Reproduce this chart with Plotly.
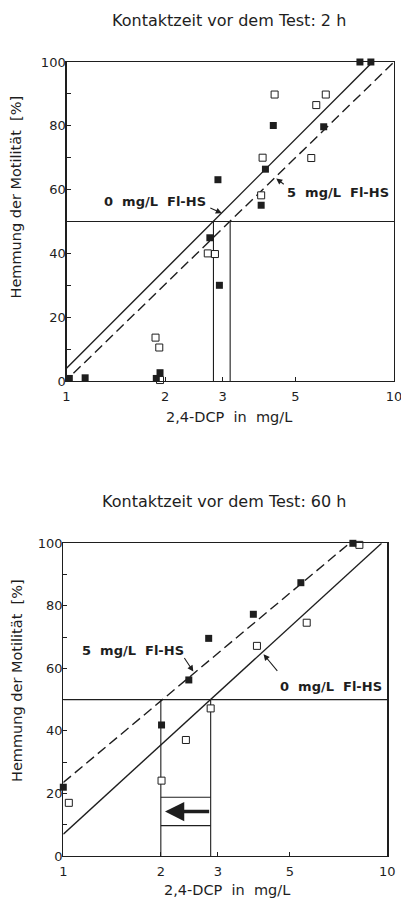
import numpy as np
import plotly.graph_objects as go

# ---------------- data ----------------
x_ticks = [1, 2, 3, 5, 10]
x_ticktext = ["1", "2", "3", "5", "10"]
y_ticks = [0, 10, 20, 30, 40, 50, 60, 70, 80, 90, 100]
y_ticktext = ["0", "", "20", "", "40", "", "60", "", "80", "", "100"]

# 2 h contact time
top_filled_x = [1.02, 1.14, 1.88, 1.93, 2.74, 2.93, 2.90, 3.93, 4.05, 4.28, 6.10, 7.87, 8.50]
top_filled_y = [0.8, 1.0, 0.8, 2.6, 44.9, 30.0, 63.1, 55.1, 66.4, 80.1, 79.7, 100, 100]
top_open_x = [1.87, 1.92, 1.93, 2.70, 2.84, 3.93, 3.97, 4.32, 5.59, 5.79, 6.19]
top_open_y = [13.6, 10.5, 0.3, 40.0, 39.8, 58.2, 70.0, 89.8, 69.9, 86.5, 89.8]
top_fit0_x = [1.0, 8.6]
top_fit0_y = [4.0, 100.0]
top_fit5_x = [1.05, 10.0]
top_fit5_y = [2.4, 100.0]
top_ec50 = [2.81, 3.16]

# 60 h contact time
bot_filled_x = [1.0, 2.01, 2.44, 2.81, 3.86, 5.41, 7.83]
bot_filled_y = [22.0, 41.9, 56.3, 69.6, 77.3, 87.4, 100]
bot_open_x = [1.04, 2.01, 2.39, 2.85, 3.96, 5.64, 8.2]
bot_open_y = [17.0, 24.1, 37.1, 47.2, 67.2, 74.6, 99.5]
bot_fit0_x = [1.0, 9.6]
bot_fit0_y = [7.0, 100.0]
bot_fit5_x = [1.0, 7.64]
bot_fit5_y = [23.5, 100.0]
bot_ec50 = [2.0, 2.85]
bot_box_y = [9.7, 18.8]
bot_arrow_y = 14.2

ink = "#1e1e1e"
FONT = "DejaVu Sans, sans-serif"

fig = go.Figure()


def add_panel(xa, ya, fx, fy, ox, oy, f0x, f0y, f5x, f5y, ec):
    kw = dict(xaxis=xa, yaxis=ya, showlegend=False, hoverinfo="skip")
    # 50 % line
    fig.add_trace(go.Scatter(x=[1, 10], y=[50, 50], mode="lines",
                             line=dict(color=ink, width=1.1), **kw))
    for e in ec:
        fig.add_trace(go.Scatter(x=[e, e], y=[0, 50], mode="lines",
                                 line=dict(color=ink, width=1.1), **kw))
    fig.add_trace(go.Scatter(x=f0x, y=f0y, mode="lines",
                             line=dict(color=ink, width=1.4), **kw))
    fig.add_trace(go.Scatter(x=f5x, y=f5y, mode="lines",
                             line=dict(color=ink, width=1.4, dash="10px,5px"), **kw))
    fig.add_trace(go.Scatter(x=ox, y=oy, mode="markers", cliponaxis=False,
                             marker=dict(symbol="square", size=7, color="white",
                                         line=dict(color=ink, width=1)), **kw))
    fig.add_trace(go.Scatter(x=fx, y=fy, mode="markers", cliponaxis=False,
                             marker=dict(symbol="square", size=7, color=ink,
                                         line=dict(width=0)), **kw))


add_panel("x", "y", top_filled_x, top_filled_y, top_open_x, top_open_y,
          top_fit0_x, top_fit0_y, top_fit5_x, top_fit5_y, top_ec50)
add_panel("x2", "y2", bot_filled_x, bot_filled_y, bot_open_x, bot_open_y,
          bot_fit0_x, bot_fit0_y, bot_fit5_x, bot_fit5_y, bot_ec50)

# box with arrow in lower panel
for yb in bot_box_y:
    fig.add_trace(go.Scatter(x=bot_ec50, y=[yb, yb], mode="lines", xaxis="x2", yaxis="y2",
                             line=dict(color=ink, width=1.1), showlegend=False, hoverinfo="skip"))

W, H = 401, 902


def px(xp):
    return xp / W


def py(yp):
    return (H - yp) / H


xcommon = dict(type="log", range=[0, 1], tickvals=x_ticks, ticktext=x_ticktext,
               ticks="inside", ticklen=4, tickcolor=ink, showline=True, mirror=True,
               linecolor=ink, linewidth=1.2, showgrid=False, zeroline=False,
               automargin=False, ticklabelstandoff=3, ticklabeloverflow="allow",
               tickfont=dict(family=FONT, size=13, color=ink))
ycommon = dict(range=[0, 100], tickvals=y_ticks, ticktext=y_ticktext,
               ticks="inside", ticklen=4, tickcolor=ink, showline=True, mirror=True,
               linecolor=ink, linewidth=1.2, showgrid=False, zeroline=False,
               automargin=False, ticklabelstandoff=-3, ticklabeloverflow="allow",
               tickfont=dict(family=FONT, size=13, color=ink))

fig.update_layout(
    width=W, height=H, margin=dict(l=0, r=0, t=0, b=0, autoexpand=False),
    paper_bgcolor="white", plot_bgcolor="white", showlegend=False,
    xaxis=dict(domain=[px(66.5), px(394)], anchor="y", **xcommon),
    yaxis=dict(domain=[py(381), py(62)], anchor="x", **ycommon),
    xaxis2=dict(domain=[px(63.3), px(387.3)], anchor="y2", **xcommon),
    yaxis2=dict(domain=[py(856), py(543.3)], anchor="x2", **ycommon),
)

ann = []
tfont = dict(family=FONT, size=16, color=ink)
lfont = dict(family=FONT, size=14.5, color=ink)
bfont = dict(family=FONT, size=13, color=ink, weight="bold")

# titles
ann.append(dict(text="Kontaktzeit vor dem Test: 2 h", x=px(229), y=py(20), xref="paper", yref="paper",
                showarrow=False, font=tfont, xanchor="center", yanchor="middle"))
ann.append(dict(text="Kontaktzeit vor dem Test: 60 h", x=px(224), y=py(501), xref="paper", yref="paper",
                showarrow=False, font=tfont, xanchor="center", yanchor="middle"))
# axis titles
for (xx, yy) in [(229, 417), (227, 890)]:
    ann.append(dict(text="2,4-DCP  in  mg/L", x=px(xx), y=py(yy), xref="paper", yref="paper",
                    showarrow=False, font=lfont, xanchor="center", yanchor="middle"))
for (xx, yy) in [(15, 197.5), (17, 681)]:
    ann.append(dict(text="Hemmung der Motilität  [%]", x=px(xx), y=py(yy), xref="paper", yref="paper",
                    showarrow=False, font=lfont, textangle=-90, xanchor="center", yanchor="middle"))

# curve labels (text)
ann.append(dict(text="0  mg/L  Fl-HS", x=px(208), y=py(201.7), xref="paper", yref="paper",
                showarrow=False, font=bfont, xanchor="right", yanchor="middle"))
ann.append(dict(text="5  mg/L  Fl-HS", x=px(285), y=py(192.7), xref="paper", yref="paper",
                showarrow=False, font=bfont, xanchor="left", yanchor="middle"))
ann.append(dict(text="5  mg/L  Fl-HS", x=px(80), y=py(650), xref="paper", yref="paper",
                showarrow=False, font=bfont, xanchor="left", yanchor="middle"))
ann.append(dict(text="0  mg/L  Fl-HS", x=px(278), y=py(686.7), xref="paper", yref="paper",
                showarrow=False, font=bfont, xanchor="left", yanchor="middle"))


# pointer arrows
def arrow(xr, yr, xv, yv, axp, ayp):
    return dict(x=np.log10(xv), y=yv, xref=xr, yref=yr, ax=axp, ay=ayp, text="",
                showarrow=True, arrowhead=2, arrowsize=1.1, arrowwidth=1.1, arrowcolor=ink)


ann.append(arrow("x", "y", 2.98, 52.6, -13, -6))
ann.append(arrow("x", "y", 4.37, 63.5, 9, 7))
ann.append(arrow("x2", "y2", 2.52, 59.0, -10, -15))
ann.append(arrow("x2", "y2", 4.15, 64.5, 15, 18))

# thick arrow in box (from right EC50 to left EC50)
ann.append(dict(x=np.log10(2.06), y=bot_arrow_y, xref="x2", yref="y2",
                ax=np.log10(bot_ec50[1]), ay=bot_arrow_y, axref="x2", ayref="y2",
                text="", showarrow=True, arrowhead=2, arrowsize=1.1, arrowwidth=3.5,
                arrowcolor=ink))

fig.update_layout(annotations=ann)
fig.write_html("out.html", config={"displayModeBar": False, "staticPlot": True},
               post_script="document.body.style.margin='0';document.body.style.overflow='hidden';")
